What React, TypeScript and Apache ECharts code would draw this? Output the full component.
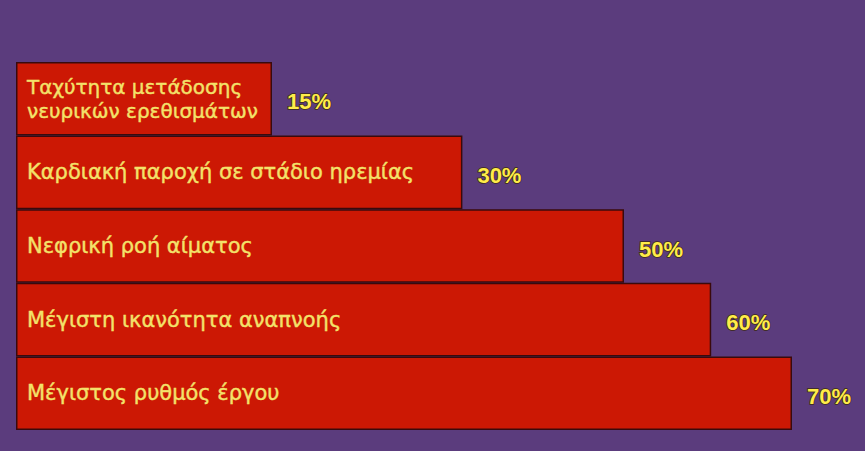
import { useEffect, useRef } from 'react';
import * as echarts from 'echarts';

// κατηγορίες από πάνω προς τα κάτω
const categories = [
  'Ταχύτητα μετάδοσης\nνευρικών ερεθισμάτων',
  'Καρδιακή παροχή σε στάδιο ηρεμίας',
  'Νεφρική ροή αίματος',
  'Μέγιστη ικανότητα αναπνοής',
  'Μέγιστος ρυθμός έργου',
];

// τα ποσοστά που γράφονται δίπλα σε κάθε μπάρα
const percents = [15, 30, 50, 60, 70];

// το μήκος των μπαρών στο πρωτότυπο δεν είναι υπό κλίμακα, μετρημένο σε μονάδες 0-100
const barLengths = [32, 55.8, 76, 86.9, 97];

const BG = '#5b3c7d';
const BAR = '#cc1804';

export default function App() {
  const chartRef = useRef<HTMLDivElement>(null);

  useEffect(() => {
    if (!chartRef.current) return;
    const chart = echarts.init(chartRef.current, null, { renderer: 'svg' });
    const option: echarts.EChartsOption = {
      animation: false,
      backgroundColor: BG,
      grid: { left: 16, right: 49, top: 62, bottom: 21 },
      xAxis: { type: 'value', min: 0, max: 100, show: false },
      yAxis: {
        type: 'category',
        data: categories,
        inverse: true,
        show: false,
      },
      series: [
        {
          type: 'bar',
          // η πρώτη μπάρα έχει δίγραμμη ετικέτα, λίγο μικρότερη για να χωράει
          data: barLengths.map((v, i) => (i === 0 ? { value: v, label: { fontSize: 20 } } : v)),
          barCategoryGap: '0%',
          itemStyle: { color: BAR, borderColor: '#3a0a0c', borderWidth: 1.5 },
          label: {
            show: true,
            position: 'insideLeft',
            distance: 11,
            formatter: (p: any) => categories[p.dataIndex],
            color: '#f3e26a',
            fontFamily: 'DejaVu Sans',
            fontSize: 21,
            lineHeight: 24,
            textBorderColor: '#f3e26a',
            textBorderWidth: 0.4,
          },
        },
        {
          type: 'bar',
          data: barLengths,
          barGap: '-100%',
          barCategoryGap: '0%',
          itemStyle: { color: 'transparent' },
          silent: true,
          label: {
            show: true,
            position: 'right',
            distance: 15,
            offset: [0, 3],
            formatter: (p: any) => `${percents[p.dataIndex]}%`,
            color: '#ffec4a',
            fontFamily: 'Liberation Sans',
            fontWeight: 'bold',
            fontSize: 22,
            textBorderColor: '#3b2a14',
            textBorderWidth: 1.5,
          },
        },
      ],
    };
    chart.setOption(option);
    return () => chart.dispose();
  }, []);

  return (
    <div
      ref={chartRef}
      style={{ position: 'absolute', left: 0, top: 0, width: '865px', height: '451px' }}
    />
  );
}
